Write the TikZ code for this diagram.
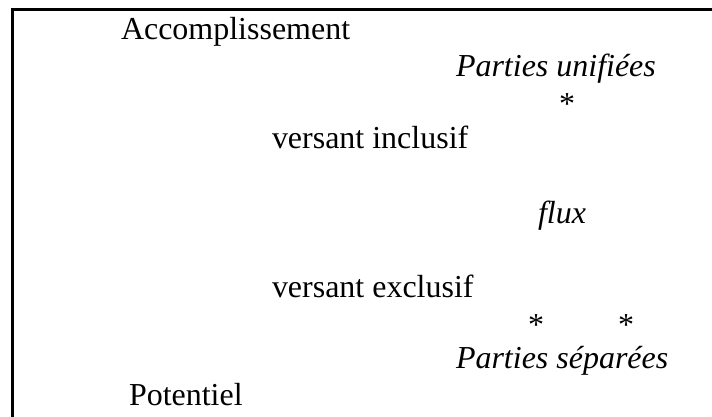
\documentclass[tikz,border=0pt]{standalone}
\usepackage{fontspec}
\setmainfont{Liberation Serif}
\begin{document}
\begin{tikzpicture}[x=1bp,y=-1bp,
  lbl/.style={inner sep=0pt,outer sep=0pt,anchor=base west,font=\fontsize{32.1}{38}\selectfont},
  ilbl/.style={lbl,font=\fontsize{32.1}{38}\selectfont\itshape},
  star/.style={inner sep=0pt,outer sep=0pt,anchor=base,font=\fontsize{32.1}{38}\selectfont},
  frame/.style={line width=2.2bp,line cap=rect}]
\useasboundingbox (0,0) rectangle (712,416);
\coordinate (bl) at (12.5,416);
\coordinate (tl) at (12.5,9.5);
\coordinate (tr) at (712,9.5);
\draw[frame] (bl) -- (tl) -- (tr);
\node[lbl] (acc) at (121,39) {Accomplissement};
\node[ilbl] (pu) at (456,76) {Parties unifiées};
\node[star] (s1) at (567,114) {*};
\node[lbl] (vi) at (272,148) {versant inclusif};
\node[ilbl] (fl) at (538,223) {flux};
\node[lbl] (ve) at (272,297) {versant exclusif};
\node[star] (s2) at (536,335) {*};
\node[star] (s3) at (626,335) {*};
\node[ilbl] (ps) at (456,368) {Parties séparées};
\node[lbl] (pot) at (129,405) {Potentiel};
\end{tikzpicture}
\end{document}
